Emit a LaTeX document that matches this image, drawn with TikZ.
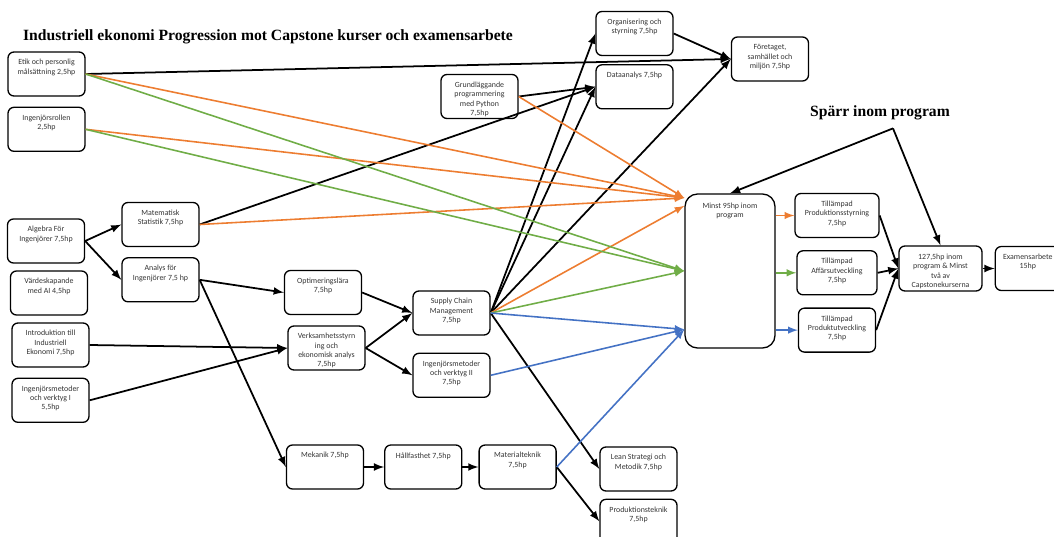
\documentclass[tikz,border=0pt]{standalone}
\usepackage{fontspec}
\setmainfont{Carlito}
\newfontfamily\titlefont{Liberation Serif}
\usetikzlibrary{shapes.geometric, arrows, positioning}
\definecolor{orange_line}{RGB}{237,125,49}
\definecolor{green_line}{RGB}{112,173,71}
\definecolor{blue_line}{RGB}{68,114,196}
% text at the top of a box
\newcommand{\crs}[2][0.58cm]{\parbox[c][#1][t]{1.45cm}{\centering #2}}

\begin{document}
\begin{tikzpicture}[x=0.02cm, y=-0.02cm, node distance=2cm]
% Styles
\tikzstyle{course_box} = [rectangle, rounded corners=0.12cm, minimum width=1.54cm, minimum height=0.88cm, inner sep=0pt, draw=black, line width=0.75pt, text=black!80, font=\fontsize{4.5}{5.3}\selectfont]
\tikzstyle{big_box} = [course_box, minimum width=1.8cm, minimum height=3.08cm, rounded corners=0.25cm]
\tikzstyle{heading} = [font=\titlefont\bfseries\fontsize{8.9}{10.5}\selectfont]
\tikzstyle{arrow} = [line width=1pt,->,>=latex]
\tikzstyle{orange_arrow} = [arrow, line width=0.9pt, draw=orange_line]
\tikzstyle{green_arrow} = [arrow, line width=0.9pt, draw=green_line]
\tikzstyle{blue_arrow} = [arrow, line width=0.9pt, draw=blue_line]
\useasboundingbox (0,0) rectangle (1054,537);
% Headings
\node (title) [heading] at (268,37) {Industriell ekonomi Progression mot Capstone kurser och examensarbete};
\node (sparr) [heading] at (880,113) {Spärr inom program};
% First column
\node (etik) [course_box] at (46.5,74) {\crs{Etik och personlig\\målsättning 2,5hp}};
\node (roll) [course_box, below=0.2cm of etik] {\crs{Ingenjörsrollen\\2,5hp}};
\node (alg) [course_box] at (46,241) {\crs{Algebra För\\Ingenjörer 7,5hp}};
\node (ai) [course_box] at (49,293) {\crs{Värdeskapande\\med AI 4,5hp}};
\node (intro) [course_box] at (50.5,345) {\crs{Introduktion till\\Industriell\\Ekonomi 7,5hp}};
\node (ing_i) [course_box, below=0.2cm of intro] {\crs{Ingenjörsmetoder\\och verktyg I\\5,5hp}};
% Middle courses
\node (mat) [course_box] at (160.5,224.5) {\crs{Matematisk\\Statistik 7,5hp}};
\node (ana) [course_box, below=0.2cm of mat] {\crs{Analys för\\Ingenjörer 7,5 hp}};
\node (opt) [course_box] at (323,292.5) {\crs{Optimeringslära\\7,5hp}};
\node (verk) [course_box] at (326.5,348) {\crs{Verksamhetsstyrn\\ing och\\ekonomisk analys\\7,5hp}};
\node (scm) [course_box] at (451.5,313) {\crs{Supply Chain\\Management\\7,5hp}};
\node (ing_ii) [course_box, below=0.34cm of scm] {\crs{Ingenjörsmetoder\\och verktyg II\\7,5hp}};
\node (grund) [course_box] at (479.5,96.5) {\crs{Grundläggande\\programmering\\med Python\\7,5hp}};
\node (org) [course_box] at (634.5,33.5) {\crs{Organisering och\\styrning 7,5hp}};
\node (data) [course_box, below=0.16cm of org] {\crs{Dataanalys 7,5hp}};
\node (fore) [course_box] at (770,59) {\crs{Företaget,\\samhället och\\miljön 7,5hp}};
\node (mek) [course_box] at (325,467) {\crs{Mekanik 7,5hp}};
\node (hall) [course_box, right=0.4cm of mek] {\crs{Hållfasthet 7,5hp}};
\node (matt) [course_box, right=0.32cm of hall] {\crs{Materialteknik\\7,5hp}};
\node (lean) [course_box] at (638.5,469) {\crs{Lean Strategi och\\Metodik 7,5hp}};
\node (prodt) [course_box, below=0.14cm of lean] {\crs{Produktionsteknik\\7,5hp}};
% Capstone part
\node (minst) [big_box] at (730,271) {\crs[2.72cm]{Minst 95hp inom\\program}};
\node (tps) [course_box, minimum width=1.68cm] at (837,215.5) {\crs{Tillämpad\\Produktionsstyrning\\7,5hp}};
\node (taff) [course_box, minimum width=1.6cm, below=0.24cm of tps] {\crs{Tillämpad\\Affärsutveckling\\7,5hp}};
\node (tprod) [course_box, below=0.24cm of taff] {\crs{Tillämpad\\Produktutveckling\\7,5hp}};
\node (cap) [course_box, minimum width=1.66cm, minimum height=0.9cm] at (940.5,268.5) {\crs{127,5hp inom\\program \& Minst\\två av\\Capstonekurserna}};
\node (exam) [course_box, minimum width=1.3cm, right=0.24cm of cap] {\parbox[c][0.58cm][t]{1.2cm}{\centering Examensarbete\\15hp}};

% Black arrows
\draw [arrow] (etik.east) -- (fore.west);
\draw [arrow] (alg.east) -- (mat.west);
\draw [arrow] (alg.east) -- (ana.west);
\draw [arrow] (mat.east) -- (data.west);
\draw [arrow] (grund.east) -- (data.west);
\draw [arrow] (ana.east) -- (opt.west);
\draw [arrow] (ana.east) -- (mek.west);
\draw [arrow] (intro.east) -- (verk.west);
\draw [arrow] (ing_i.east) -- (verk.west);
\draw [arrow] (opt.east) -- (scm.west);
\draw [arrow] (verk.east) -- (scm.west);
\draw [arrow] (verk.east) -- (ing_ii.west);
\draw [arrow] (scm.east) -- (org.west);
\draw [arrow] (scm.east) -- (data.west);
\draw [arrow] (scm.east) -- (fore.west);
\draw [arrow] (scm.east) -- (lean.west);
\draw [arrow] (org.east) -- (fore.west);
\draw [arrow] (mek.east) -- (hall.west);
\draw [arrow] (hall.east) -- (matt.west);
\draw [arrow] (matt.east) -- (prodt.west);
\draw [arrow] (tps.east) -- (cap.west);
\draw [arrow] (taff.east) -- (cap.west);
\draw [arrow] (tprod.east) -- (cap.west);
\draw [arrow] (cap.east) -- (exam.west);
\draw [arrow] ([xshift=0.26cm,yshift=-0.04cm]sparr.south) -- (minst.north);
\draw [arrow] ([xshift=0.26cm,yshift=-0.04cm]sparr.south) -- (cap.north);

% Orange arrows
\draw [orange_arrow] (etik.east) -- (minst.122);
\draw [orange_arrow] (roll.east) -- (minst.122);
\draw [orange_arrow] (mat.east) -- (minst.122);
\draw [orange_arrow] (grund.east) -- (minst.122);
\draw [orange_arrow] (scm.east) -- (minst.125);
\draw [orange_arrow] (minst.east |- tps.west) -- (tps.west);

% Green arrows
\draw [green_arrow] (etik.east) -- (minst.west);
\draw [green_arrow] (roll.east) -- (minst.west);
\draw [green_arrow] (scm.east) -- (minst.west);
\draw [green_arrow] (minst.east |- taff.west) -- (taff.west);

% Blue arrows
\draw [blue_arrow] (scm.east) -- (minst.232);
\draw [blue_arrow] (ing_ii.east) -- (minst.232);
\draw [blue_arrow] (matt.east) -- (minst.232);
\draw [blue_arrow] (minst.east |- tprod.west) -- (tprod.west);
\end{tikzpicture}
\end{document}
